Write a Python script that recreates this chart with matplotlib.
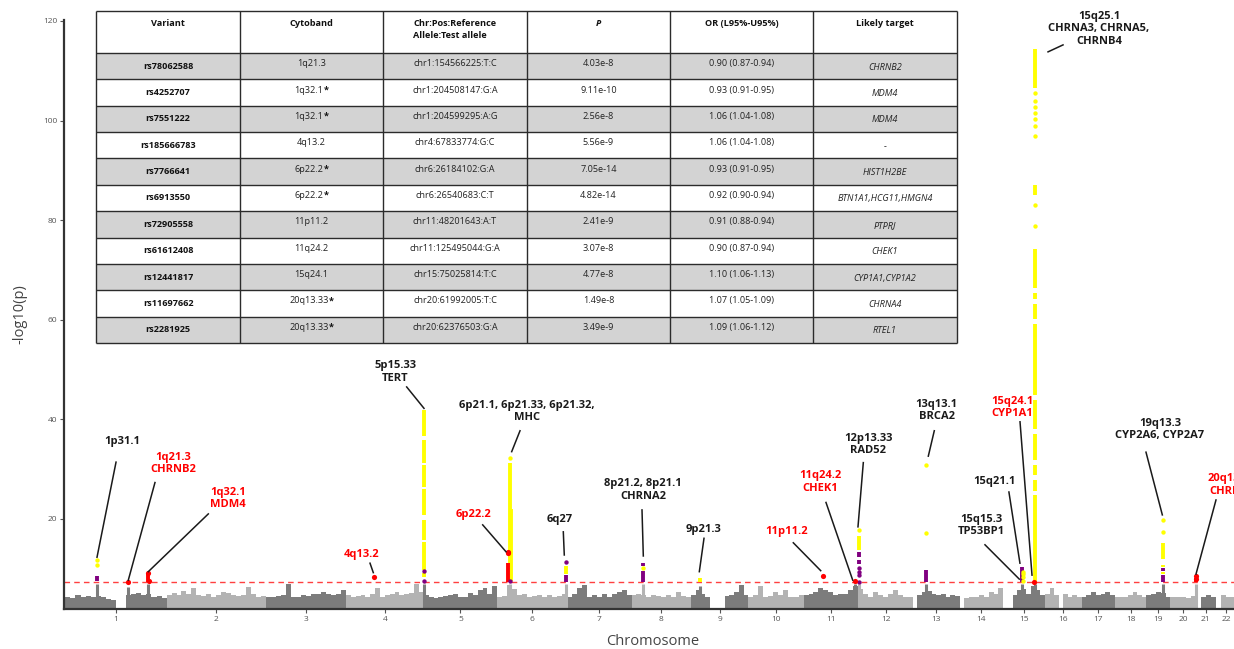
import numpy as np
import matplotlib
matplotlib.use("Agg")
import matplotlib.pyplot as plt
from matplotlib.patches import Rectangle

plt.rcParams["font.family"] = ["Open Sans", "DejaVu Sans"]

# hg19 chromosome lengths (Mb)
CHROM_LEN = [249.25, 243.20, 198.02, 191.15, 180.92, 171.12, 159.14, 146.36,
             141.21, 135.53, 135.01, 133.85, 115.17, 107.35, 102.53, 90.35,
             81.20, 78.08, 59.13, 63.03, 48.13, 51.30]

# sub-threshold signal: max -log10(p) per equal-width bin along each chromosome
BACKGROUND = [
    [4.4, 4.1, 4.8, 4.4, 4.6, 4.3, 4.5, 4.3, 3.9, 3.7, 0, 0, 4.7, 5.0, 5.1, 4.7, 5.0, 4.4, 4.6, 4.2],
    [4.7, 5.1, 4.7, 5.6, 5.0, 6.2, 4.8, 4.5, 5.0, 4.4, 4.7, 5.4, 5.1, 4.7, 4.5, 4.7, 6.4, 4.9, 4.4, 4.6],
    [4.4, 4.3, 4.5, 4.7, 6.9, 4.3, 4.4, 4.7, 4.5, 5.0, 4.9, 5.4, 5.0, 4.7, 5.0, 5.7],
    [4.7, 4.4, 4.6, 4.7, 4.3, 5.0, 6.1, 4.4, 4.7, 5.0, 5.4, 4.7, 4.9, 5.1, 6.9, 5.4],
    [4.8, 4.4, 4.1, 4.4, 4.5, 4.7, 4.9, 4.4, 4.3, 5.1, 4.7, 5.7, 6.2, 5.0, 6.6],
    [4.3, 4.5, 6.8, 6.0, 4.7, 5.0, 4.4, 4.5, 4.7, 4.3, 4.7, 4.4, 4.5, 5.0],
    [4.4, 4.9, 6.2, 6.7, 4.4, 4.7, 4.3, 4.9, 4.4, 5.0, 5.4, 5.7, 4.7],
    [4.7, 5.0, 4.8, 4.4, 4.7, 4.5, 4.4, 4.7, 4.3, 5.4, 4.5, 4.4],
    [4.7, 5.7, 5.0, 4.4, 0, 0, 0, 4.6, 4.7, 5.3, 6.8, 4.7],
    [4.4, 4.7, 6.6, 4.4, 4.5, 5.4, 4.7, 5.7, 4.4, 4.3, 4.7],
    [4.7, 5.0, 5.4, 6.1, 5.7, 5.4, 4.7, 5.0, 4.9, 5.7, 6.6],
    [6.0, 5.0, 4.4, 5.4, 4.7, 4.4, 5.0, 5.7, 4.7, 4.4, 4.3],
    [0, 4.7, 5.4, 5.6, 5.0, 4.7, 5.0, 4.4, 4.7, 4.5],
    [0, 4.1, 4.4, 4.4, 4.7, 4.4, 5.4, 5.0, 6.2],
    [0, 0, 4.7, 5.7, 6.0, 4.9, 6.6, 5.7, 4.7],
    [5.0, 6.1, 4.7, 0, 5.0, 4.3, 4.7, 4.4],
    [4.4, 4.7, 5.4, 4.7, 5.0, 5.4, 4.7],
    [4.4, 4.3, 4.4, 4.7, 5.4, 4.7, 4.4],
    [4.7, 5.0, 5.4, 5.2, 4.4],
    [4.4, 4.3, 4.4, 4.1, 4.5],
    [0, 4.4, 4.7, 4.4],
    [0, 4.7, 4.4, 4.4],
]

# grey SNPs just under the threshold at each hit locus: (chrom, Mb, -log10 p)
STEMS = [(1, 77.0, 7.0), (1, 154.57, 6.4), (1, 204.55, 7.0), (5, 1.3, 7.0),
         (6, 31.0, 7.0), (6, 168.3, 7.0), (8, 27.3, 7.0), (9, 22.0, 6.6),
         (11, 125.5, 7.0), (12, 1.0, 7.0), (13, 32.9, 7.0), (15, 46.0, 7.0),
         (15, 78.9, 7.0), (19, 41.35, 7.0), (20, 62.2, 7.0)]

# genome-wide significant SNPs, dense runs (chrom, Mb, low, high) and single points
YELLOW_RUNS = [
    (5, 1.3, 36.6, 41.8), (5, 1.3, 31.2, 35.8), (5, 1.3, 26.5, 30.8),
    (5, 1.3, 20.8, 26.1), (5, 1.3, 15.8, 19.8), (5, 1.3, 9.7, 15.4), (5, 1.3, 8.3, 9.1),
    (6, 30.5, 7.9, 31.3), (6, 32.6, 7.6, 22.0), (6, 168.3, 9.0, 10.6),
    (9, 22.0, 7.3, 8.2), (12, 1.0, 13.8, 16.6),
    (15, 78.9, 106.5, 114.4), (15, 78.9, 85.0, 87.0), (15, 78.9, 66.4, 74.2),
    (15, 78.9, 64.1, 65.4), (15, 78.9, 60.2, 63.1), (15, 78.9, 44.9, 59.2),
    (15, 78.9, 38.0, 43.9), (15, 78.9, 31.8, 37.0), (15, 78.9, 28.8, 30.8),
    (15, 78.9, 25.7, 27.8), (15, 78.9, 7.4, 24.7),
    (19, 41.35, 12.0, 15.2), (19, 41.35, 10.3, 10.8), (19, 41.35, 9.0, 9.4),
]
YELLOW_DOTS = [
    (1, 77.0, 10.8), (1, 77.0, 11.8), (6, 30.5, 32.3), (8, 27.3, 10.1),
    (12, 1.0, 17.8), (13, 32.9, 17.1), (13, 32.9, 30.8),
    (15, 49.0, 9.4), (15, 49.0, 8.9), (15, 49.0, 8.3), (15, 49.0, 7.6),
    (15, 78.9, 105.6), (15, 78.9, 104.0), (15, 78.9, 102.7), (15, 78.9, 101.6),
    (15, 78.9, 100.4), (15, 78.9, 99.0), (15, 78.9, 97.0), (15, 78.9, 83.0),
    (15, 78.9, 78.8), (19, 41.35, 19.7), (19, 41.35, 17.3),
]
PURPLE_RUNS = [
    (1, 77.0, 7.6, 8.6), (6, 168.3, 7.3, 8.8), (8, 27.3, 7.3, 9.6),
    (8, 27.3, 10.5, 11.2), (12, 1.0, 12.4, 13.4), (12, 1.0, 11.0, 11.7),
    (13, 32.9, 7.3, 9.7), (15, 45.0, 7.3, 10.4), (19, 41.35, 9.6, 10.1),
    (19, 41.35, 7.4, 8.7),
]
PURPLE_DOTS = [(5, 1.3, 9.5), (5, 1.3, 7.6), (6, 30.5, 7.5), (6, 168.3, 11.3),
               (12, 1.0, 10.1), (12, 1.0, 9.4), (12, 1.0, 8.7), (12, 1.0, 7.4)]
RED_RUNS = [(1, 204.55, 7.3, 8.9), (6, 26.3, 7.3, 11.1), (20, 62.2, 7.3, 8.2)]

# table of novel variants
VARIANTS = ["rs78062588", "rs4252707", "rs7551222", "rs185666783", "rs7766641",
            "rs6913550", "rs72905558", "rs61612408", "rs12441817", "rs11697662",
            "rs2281925"]
CYTOBANDS = ["1q21.3", "1q32.1*", "1q32.1*", "4q13.2", "6p22.2*", "6p22.2*",
             "11p11.2", "11q24.2", "15q24.1", "20q13.33*", "20q13.33*"]
ALLELES = ["chr1:154566225:T:C", "chr1:204508147:G:A", "chr1:204599295:A:G",
           "chr4:67833774:G:C", "chr6:26184102:G:A", "chr6:26540683:C:T",
           "chr11:48201643:A:T", "chr11:125495044:G:A", "chr15:75025814:T:C",
           "chr20:61992005:T:C", "chr20:62376503:G:A"]
PVALUES = ["4.03e-8", "9.11e-10", "2.56e-8", "5.56e-9", "7.05e-14", "4.82e-14",
           "2.41e-9", "3.07e-8", "4.77e-8", "1.49e-8", "3.49e-9"]
ODDS = ["0.90 (0.87-0.94)", "0.93 (0.91-0.95)", "1.06 (1.04-1.08)",
        "1.06 (1.04-1.08)", "0.93 (0.91-0.95)", "0.92 (0.90-0.94)",
        "0.91 (0.88-0.94)", "0.90 (0.87-0.94)", "1.10 (1.06-1.13)",
        "1.07 (1.05-1.09)", "1.09 (1.06-1.12)"]
TARGETS = ["CHRNB2", "MDM4", "MDM4", "-", "HIST1H2BE", "BTN1A1,HCG11,HMGN4",
           "PTPRJ", "CHEK1", "CYP1A1,CYP1A2", "CHRNA4", "RTEL1"]

# locus labels: text, red (novel) or not, label centre, leader start, leader end
LABEL_TEXT = ["1p31.1", "1q21.3\nCHRNB2", "1q32.1\nMDM4", "4q13.2", "5p15.33\nTERT",
              "6p21.1, 6p21.33, 6p21.32,\nMHC", "6p22.2", "6q27",
              "8p21.2, 8p21.1\nCHRNA2", "9p21.3", "11p11.2", "11q24.2\nCHEK1",
              "12p13.33\nRAD52", "13q13.1\nBRCA2", "15q24.1\nCYP1A1", "15q21.1",
              "15q15.3\nTP53BP1", "15q25.1\nCHRNA3, CHRNA5,\nCHRNB4",
              "19q13.3\nCYP2A6, CYP2A7", "20q13.33\nCHRNA4"]
LABEL_NOVEL = [False, True, True, True, False, False, True, False, False, False,
               True, True, False, False, True, False, False, False, False, True]
LABEL_AT = [(139.6, 35.6), (264.8, 31.2), (400.1, 24.1), (729.0, 12.75),
            (811.0, 49.5), (1135.7, 41.5), (1005.2, 20.8), (1216.9, 19.8),
            (1421.0, 25.8), (1569.4, 17.9), (1774.5, 17.4), (1856.4, 27.4),
            (1975.3, 35.0), (2143.5, 41.7), (2328.8, 42.3), (2286.8, 27.6),
            (2252.5, 18.6), (2542.9, 118.4), (2692.9, 37.9), (2869.9, 26.8)]
LEADER_FROM = [(124.7, 31.4), (220.5, 27.3), (351.7, 21.0), (749.5, 11.1),
               (839.7, 46.5), (1118.5, 37.7), (1026.7, 18.8), (1225.0, 17.4),
               (1418.6, 21.8), (1571.1, 16.1), (1790.8, 15.2), (1871.2, 23.3),
               (1963.0, 31.3), (2137.6, 37.7), (2348.5, 39.5), (2321.2, 25.4),
               (2262.3, 14.8), (2454.3, 115.2), (2658.4, 33.4), (2830.6, 23.8)]
LEADER_TO = [(77.9, 12.3), (154.9, 7.7), (204.1, 9.4), (757.6, 9.2),
             (882.3, 42.2), (1098.0, 33.5), (1084.0, 13.4), (1227.4, 12.75),
             (1421.8, 12.55), (1559.6, 9.4), (1858.2, 9.6), (1936.9, 7.7),
             (1949.9, 18.4), (2122.9, 32.6), (2378.0, 8.7), (2348.3, 11.1),
             (2346.7, 7.9), (2417.4, 113.8), (2698.6, 20.8), (2781.4, 8.9)]

GREYS = ["#7c7c7c", "#b3b3b3"]
YELLOW, PURPLE, RED = "#ffff00", "#800080", "#ff0000"

offsets = np.concatenate([[0.0], np.cumsum(CHROM_LEN)[:-1]])


def gpos(chrom, mb):
    return offsets[chrom - 1] + mb


W, H = 1234, 649
fig = plt.figure(figsize=(W / 100, H / 100), dpi=100)
ax = fig.add_axes([64 / W, 40 / H, 1170 / W, 589 / H])

# background Manhattan skyline
for i, (length, heights) in enumerate(zip(CHROM_LEN, BACKGROUND)):
    width = length / len(heights)
    xs = offsets[i] + np.arange(len(heights)) * width
    ax.bar(xs, heights, width=width, align="edge", color=GREYS[i % 2],
           linewidth=0, zorder=1)

for chrom, mb, top in STEMS:
    ax.vlines(gpos(chrom, mb), 0, top, colors=GREYS[(chrom - 1) % 2],
              linewidth=2.2, zorder=1.5)

# genome-wide significance threshold (5e-8)
ax.axhline(-np.log10(5e-8), color="#ff4040", linestyle=(0, (4, 3)),
           linewidth=1.0, zorder=2)

for runs, color in [(YELLOW_RUNS, YELLOW), (PURPLE_RUNS, PURPLE), (RED_RUNS, RED)]:
    xs = [gpos(c, m) for c, m, lo, hi in runs]
    ax.vlines(xs, [r[2] for r in runs], [r[3] for r in runs], colors=color,
              linewidth=2.8, zorder=3)
for dots, color in [(YELLOW_DOTS, YELLOW), (PURPLE_DOTS, PURPLE)]:
    ax.scatter([gpos(c, m) for c, m, v in dots], [d[2] for d in dots],
               s=10, color=color, linewidths=0, zorder=3)

# lead variants from the table
lead_x, lead_y = [], []
for allele, p in zip(ALLELES, PVALUES):
    chrom, pos = allele.split(":")[:2]
    lead_x.append(gpos(int(chrom[3:]), int(pos) / 1e6))
    lead_y.append(-np.log10(float(p)))
ax.scatter(lead_x, lead_y, s=14, color=RED, linewidths=0, zorder=4)

for text, novel, at, p0, p1 in zip(LABEL_TEXT, LABEL_NOVEL, LABEL_AT,
                                   LEADER_FROM, LEADER_TO):
    ax.text(at[0], at[1], text, ha="center", va="center", fontsize=8,
            fontweight="bold", color=RED if novel else "#1a1a1a",
            linespacing=1.15, zorder=5)
    ax.plot([p0[0], p1[0]], [p0[1], p1[1]], color="#1a1a1a", linewidth=1.1,
            zorder=5)

ax.set_xlim(-3.3, 2874.9)
ax.set_ylim(1.9, 120.2)
ax.set_xticks(offsets + np.array(CHROM_LEN) / 2)
ax.set_xticklabels([str(i + 1) for i in range(22)])
ax.set_yticks([20, 40, 60, 80, 100, 120])
ax.tick_params(length=3, width=0.8, color="#555555", labelsize=6,
               labelcolor="#555555", pad=2)
for side in ["top", "right"]:
    ax.spines[side].set_visible(False)
for side in ["left", "bottom"]:
    ax.spines[side].set_color("#333333")
    ax.spines[side].set_linewidth(1.6)
ax.set_ylabel("-log10(p)", fontsize=10.5, color="#444444")
ax.yaxis.set_label_coords(-0.031, 0.5)
ax.set_xlabel("Chromosome", fontsize=10.5, color="#444444")
ax.xaxis.set_label_coords(0.503, -0.042)

# inset results table
tab = fig.add_axes([96 / W, 1 - 343 / H, 861 / W, 332 / H])
tab.set_xlim(0, 861)
tab.set_ylim(332, 0)
tab.axis("off")
col_edges = [0, 144, 287, 431, 574, 717, 861]
header_h = 42
row_h = (332 - header_h) / len(VARIANTS)
centers = [(a + b) / 2 for a, b in zip(col_edges[:-1], col_edges[1:])]
fs = 6.6

for r in range(len(VARIANTS)):
    if r % 2 == 0:
        tab.add_patch(Rectangle((0, header_h + r * row_h), 861, row_h,
                                facecolor="#d3d3d3", edgecolor="none"))
row_lines = [0, header_h] + [header_h + (r + 1) * row_h for r in range(len(VARIANTS))]
tab.hlines(row_lines, 0, 861, color="#2b2b2b", linewidth=1.0, clip_on=False)
tab.vlines(col_edges, 0, 332, color="#2b2b2b", linewidth=1.0, clip_on=False)

headers = ["Variant", "Cytoband", "Chr:Pos:Reference\nAllele:Test allele", "P",
           "OR (L95%-U95%)", "Likely target"]
for j, h in enumerate(headers):
    tab.text(centers[j], 8, h, ha="center", va="top", fontsize=fs,
             fontweight="bold", fontstyle="italic" if h == "P" else "normal",
             multialignment="left", linespacing=1.4, color="#111111")

for r in range(len(VARIANTS)):
    cy = header_h + (r + 0.5) * row_h
    tab.text(centers[0], cy, VARIANTS[r], ha="center", va="center", fontsize=fs,
             fontweight="bold", color="#111111")
    band = CYTOBANDS[r]
    if band.endswith("*"):
        t = tab.text(centers[1] - 2.5, cy - 2.5, band[:-1], ha="center",
                     va="center", fontsize=fs, color="#222222")
        tab.annotate("*", xy=(1, 0), xycoords=t, ha="left", va="bottom",
                     fontsize=fs, fontweight="bold", color="#111111")
    else:
        tab.text(centers[1], cy - 2.5, band, ha="center", va="center",
                 fontsize=fs, color="#222222")
    for j, col in [(2, ALLELES), (3, PVALUES), (4, ODDS)]:
        tab.text(centers[j], cy - 2.5, col[r], ha="center", va="center",
                 fontsize=fs, color="#222222")
    tab.text(centers[5], cy + 1, TARGETS[r], ha="center", va="center",
             fontsize=fs, fontstyle="italic", color="#222222")

plt.savefig("out.png", dpi=100)
